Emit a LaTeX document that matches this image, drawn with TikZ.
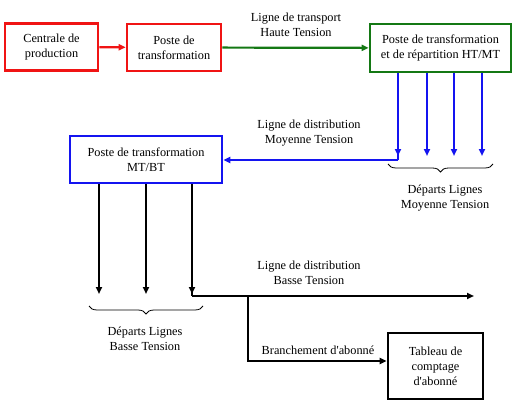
\documentclass[tikz,border=0pt]{standalone}
\usepackage{fontspec}
\setmainfont{Liberation Serif}
\usetikzlibrary{arrows.meta,decorations.pathreplacing}
\definecolor{cred}{RGB}{240,20,20}
\definecolor{cgreen}{RGB}{20,120,20}
\definecolor{cblue}{RGB}{20,20,240}
\begin{document}
\begin{tikzpicture}[x=1pt,y=-1pt,
  box/.style={draw,line width=2.6pt,fill=white,align=center,inner sep=1pt,
    font=\fontsize{12.3}{15}\selectfont},
  lbl/.style={align=center,font=\fontsize{12.3}{15}\selectfont,inner sep=0pt},
  conn/.style={line width=2.2pt,-{Triangle[length=7pt,width=6pt]}},
  plain/.style={line width=2.2pt},
  brc/.style={decorate,decoration={brace,mirror,amplitude=8pt},line width=0.8pt}]
\useasboundingbox (0,0) rectangle (520,412);
% boxes
\node[box,draw=cred,minimum width=93pt,minimum height=47pt] (b1) at (51.5,47) {Centrale de\\production};
\node[box,draw=cred,minimum width=94pt,minimum height=47pt] (b2) at (174,47.5) {Poste de\\transformation};
\node[box,draw=cgreen,minimum width=141pt,minimum height=48pt] (b3) at (440.5,48) {Poste de transformation\\et de répartition HT/MT};
\node[box,draw=cblue,minimum width=152pt,minimum height=47pt] (b4) at (146,159.5) {Poste de transformation\\MT/BT};
\node[box,draw=black,minimum width=95pt,minimum height=66pt] (b5) at (435.5,366) {Tableau de\\comptage\\d\textquotesingle abonné};
% labels
\node[lbl] (l1) at (296,25) {Ligne de transport\\Haute Tension};
\node[lbl] (l2) at (309,133) {Ligne de distribution\\Moyenne Tension};
\node[lbl] (l3) at (309,273) {Ligne de distribution\\Basse Tension};
\node[lbl] (l4) at (318,350) {Branchement d\textquotesingle abonné};
\node[lbl] (l5) at (445,198) {Départs Lignes\\Moyenne Tension};
\node[lbl] (l6) at (145,339) {Départs Lignes\\Basse Tension};
% coordinates
\coordinate (m1) at (398,156);
\coordinate (m2) at (427,156);
\coordinate (m3) at (454,156);
\coordinate (m4) at (482,156);
\coordinate (mc) at (398,160);
\coordinate (t1) at (99,294);
\coordinate (t2) at (146,294);
\coordinate (t3) at (192,294);
\coordinate (tc) at (192,296);
\coordinate (te) at (474,296);
\coordinate (bj) at (248,296);
\coordinate (bk) at (248,361);
\coordinate (bA) at (388,164);
\coordinate (bB) at (493,164);
\coordinate (bC) at (89,306);
\coordinate (bD) at (203,306);
% connectors
\draw[conn,draw=cred,fill=cred] (b1) -- (b2);
\draw[conn,draw=cgreen,fill=cgreen] (b2) -- (b3);
\foreach \c in {m1,m2,m3,m4}
  \draw[conn,draw=cblue,fill=cblue] (b3.south -| \c) -- (\c);
\draw[plain,draw=cblue] (b3.south -| mc) -- (mc);
\draw[conn,draw=cblue,fill=cblue] (mc) -- (mc -| b4.east);
\foreach \c in {t1,t2,t3}
  \draw[conn] (b4.south -| \c) -- (\c);
\draw[plain] (b4.south -| tc) -- (tc);
\draw[conn] (tc) -- (te);
\draw[conn] (bj) -- (bk) -- (bk -| b5.west);
\draw[brc] (bA) -- (bB);
\draw[brc] (bC) -- (bD);
\end{tikzpicture}
\end{document}
